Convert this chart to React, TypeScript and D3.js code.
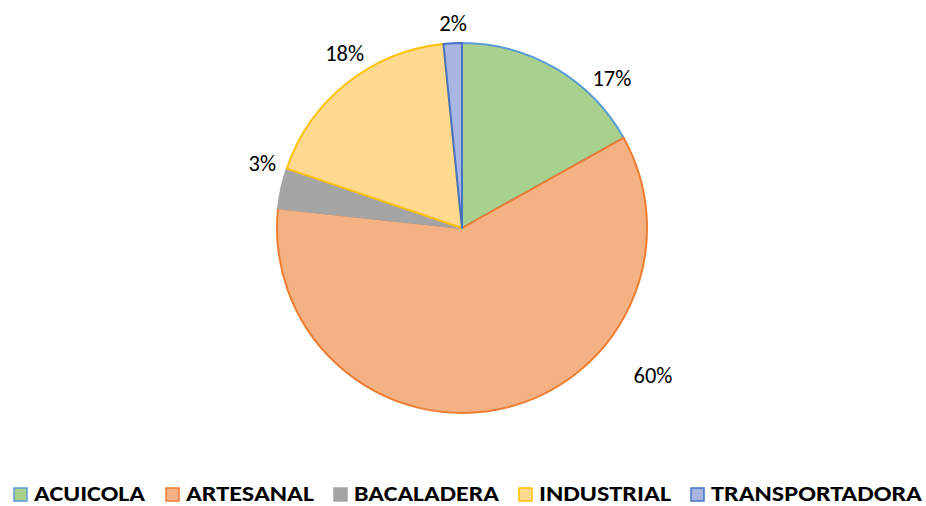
import React from "react";
import * as d3 from "d3";

const categories = ["ACUICOLA", "ARTESANAL", "BACALADERA", "INDUSTRIAL", "TRANSPORTADORA"];
const values = [16.9, 59.8, 3.5, 18.2, 1.6];
const labels = ["17%", "60%", "3%", "18%", "2%"];
const fills = ["#A9D18E", "#F4B183", "#A5A5A5", "#FFD98F", "#A9B6E2"];
const strokes = ["#5B9BD5", "#ED7D31", "#A5A5A5", "#FFC000", "#4472C4"];
// label placement: angle (deg clockwise from top) and distance from center
const labelAngles = [45, 127.6, 288, 326, 357.5];
const labelDists = [212, 241, 210, 210, 205];
const legendTextWidths = [111, 128, 145, 132, 211];
const legendX = [13, 165, 333, 518, 690];

export default function App() {
  const W = 926, H = 506;
  const cx = 462, cy = 228, r = 185;
  const pie = d3.pie<number>().sort(null).value((d) => d)(values);
  const arc = d3.arc<d3.PieArcDatum<number>>().innerRadius(0).outerRadius(r);
  return (
    <svg width={W} height={H} style={{ position: "absolute", left: 0, top: 0 }} fontFamily="Carlito, Calibri, Lato, sans-serif">
      <rect width={W} height={H} fill="#fff" />
      <g transform={`translate(${cx},${cy})`}>
        {pie.map((p, i) => (
          <path key={i} d={arc(p) || ""} fill={fills[i]} stroke={strokes[i]} strokeWidth={2} strokeLinejoin="round" />
        ))}
        {labels.map((t, i) => {
          const a = (labelAngles[i] * Math.PI) / 180;
          return (
            <text key={i} x={Math.sin(a) * labelDists[i]} y={-Math.cos(a) * labelDists[i]} textAnchor="middle" dominantBaseline="central" fontSize={22.5} fill="#000">
              {t}
            </text>
          );
        })}
      </g>
      {categories.map((c, i) => (
        <g key={c}>
          <rect x={legendX[i] + 1} y={488} width={13} height={13} fill={fills[i]} stroke={strokes[i]} strokeWidth={1.5} />
          <text x={legendX[i] + 21} y={501} fontSize={22} fontWeight="bold" textLength={legendTextWidths[i]} lengthAdjust="spacingAndGlyphs" fill="#000">
            {c}
          </text>
        </g>
      ))}
    </svg>
  );
}
